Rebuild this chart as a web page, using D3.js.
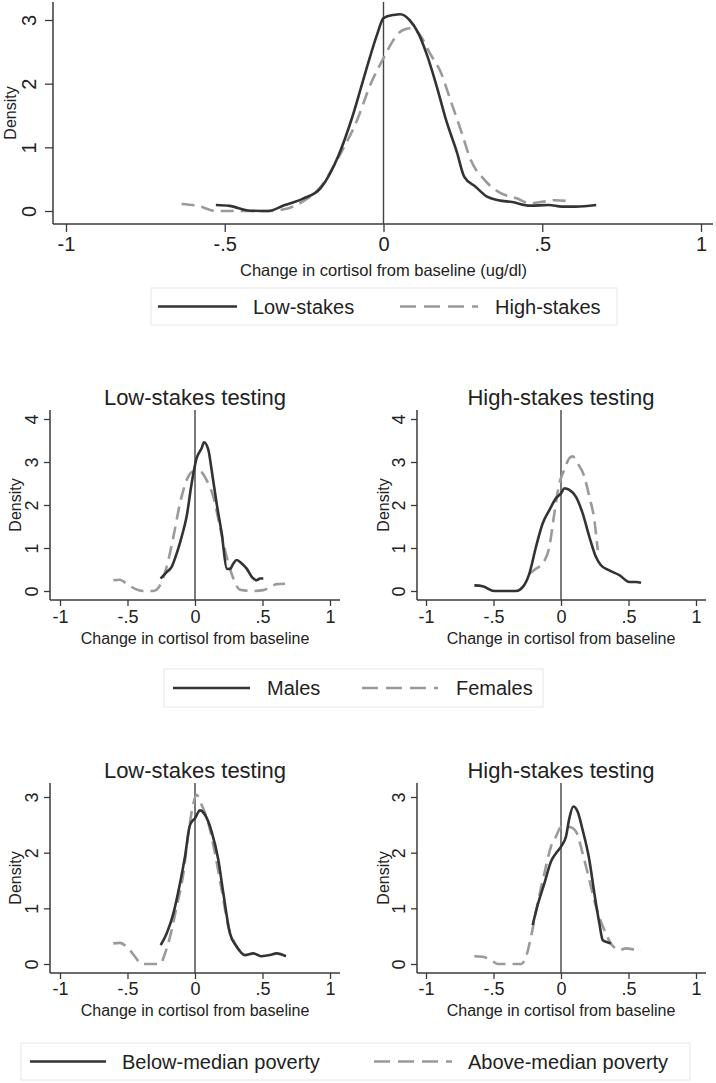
<!DOCTYPE html>
<html>
<head>
<meta charset="utf-8">
<script src="https://cdn.jsdelivr.net/npm/d3@7"></script>
<style>
  html, body { margin: 0; padding: 0; background: #fff; }
  svg { display: block; font-family: "Liberation Sans", Arial, sans-serif; }
</style>
</head>
<body>
<svg id="chart" width="716" height="1083"></svg>
<script>
// ---------------- DATA ----------------
const xTicks = [-1, -0.5, 0, 0.5, 1];
const xTickLabels = ["-1", "-.5", "0", ".5", "1"];
const yTicksTop = [0, 1, 2, 3];
const yTicksMid = [0, 1, 2, 3, 4];
const yTicksBottom = [0, 1, 2, 3];

const panelTitles = ["Low-stakes testing", "High-stakes testing"];
const legendTop = ["Low-stakes", "High-stakes"];
const legendMid = ["Males", "Females"];
const legendBottom = ["Below-median poverty", "Above-median poverty"];

// Top panel: all students
const topLowStakes = [[-0.528,0.094],[-0.485,0.08],[-0.42,0.005],[-0.363,0],[-0.313,0.09],[-0.255,0.19],[-0.198,0.36],[-0.141,0.88],[-0.098,1.48],[-0.055,2.21],[-0.019,2.79],[0,3.03],[0.032,3.08],[0.053,3.09],[0.082,3.0],[0.11,2.79],[0.139,2.42],[0.168,1.95],[0.197,1.43],[0.232,0.91],[0.254,0.54],[0.29,0.38],[0.326,0.225],[0.362,0.17],[0.405,0.14],[0.462,0.084],[0.52,0.094],[0.562,0.068],[0.605,0.068],[0.67,0.094]];
const topHighStakes = [[-0.636,0.11],[-0.585,0.08],[-0.528,0],[-0.456,0],[-0.37,0],[-0.313,0.026],[-0.255,0.147],[-0.198,0.38],[-0.141,0.85],[-0.083,1.43],[-0.04,2.0],[0,2.4],[0.032,2.69],[0.06,2.84],[0.089,2.87],[0.118,2.74],[0.146,2.48],[0.182,2.16],[0.211,1.74],[0.247,1.22],[0.275,0.8],[0.318,0.49],[0.362,0.3],[0.419,0.2],[0.462,0.12],[0.505,0.147],[0.541,0.17],[0.591,0.147]];

// Middle panels: by gender
const lowMales = [[-0.254,0.29],[-0.21,0.44],[-0.173,0.56],[-0.136,0.87],[-0.099,1.26],[-0.062,1.73],[-0.025,2.5],[0.012,3.09],[0.049,3.32],[0.067,3.46],[0.099,3.28],[0.123,2.82],[0.16,2.04],[0.198,1.34],[0.235,0.52],[0.259,0.51],[0.284,0.64],[0.309,0.72],[0.346,0.64],[0.383,0.52],[0.42,0.33],[0.457,0.25],[0.481,0.29],[0.506,0.29]];
const lowFemales = [[-0.605,0.25],[-0.556,0.26],[-0.506,0.17],[-0.444,0.05],[-0.383,0],[-0.309,0],[-0.259,0.13],[-0.21,0.56],[-0.16,1.26],[-0.111,2.04],[-0.062,2.58],[-0.012,2.78],[0.037,2.78],[0.086,2.58],[0.136,2.19],[0.185,1.49],[0.235,0.79],[0.284,0.29],[0.333,0.03],[0.432,0],[0.506,0.02],[0.556,0.09],[0.605,0.16],[0.667,0.17]];
const highMales = [[-0.642,0.13],[-0.58,0.11],[-0.494,0],[-0.407,0],[-0.333,0],[-0.284,0.09],[-0.235,0.4],[-0.185,1.03],[-0.136,1.57],[-0.086,1.88],[-0.037,2.16],[0,2.27],[0.025,2.39],[0.062,2.35],[0.111,2.19],[0.16,1.81],[0.21,1.26],[0.259,0.79],[0.296,0.6],[0.358,0.48],[0.432,0.37],[0.506,0.21],[0.556,0.21],[0.593,0.19]];
const highFemales = [[-0.235,0.4],[-0.185,0.52],[-0.136,0.64],[-0.086,1.03],[-0.049,1.81],[-0.012,2.5],[0.025,2.82],[0.062,3.09],[0.086,3.13],[0.123,2.97],[0.173,2.66],[0.21,2.19],[0.247,1.65],[0.272,0.95]];

// Bottom panels: by poverty
const lowBelowPov = [[-0.254,0.34],[-0.21,0.55],[-0.16,0.91],[-0.111,1.45],[-0.074,1.93],[-0.037,2.5],[0,2.62],[0.037,2.76],[0.074,2.68],[0.123,2.38],[0.173,1.87],[0.21,1.27],[0.259,0.55],[0.309,0.31],[0.37,0.16],[0.432,0.19],[0.494,0.14],[0.556,0.16],[0.605,0.19],[0.674,0.14]];
const lowAbovePov = [[-0.605,0.37],[-0.556,0.38],[-0.494,0.28],[-0.444,0.13],[-0.395,0],[-0.259,0],[-0.222,0.19],[-0.185,0.49],[-0.136,1.03],[-0.086,1.63],[-0.049,2.35],[-0.017,2.83],[0.012,3.04],[0.049,2.86],[0.099,2.53],[0.148,1.99],[0.198,1.33],[0.247,0.67],[0.296,0.37],[0.346,0.19]];
const highBelowPov = [[-0.21,0.7],[-0.173,1.06],[-0.123,1.45],[-0.074,1.84],[-0.037,1.99],[0,2.11],[0.037,2.29],[0.062,2.62],[0.091,2.83],[0.123,2.74],[0.16,2.41],[0.21,1.87],[0.247,1.27],[0.284,0.73],[0.309,0.43],[0.333,0.4],[0.37,0.37]];
const highAbovePov = [[-0.642,0.14],[-0.58,0.13],[-0.519,0.07],[-0.469,0],[-0.296,0],[-0.259,0.13],[-0.222,0.49],[-0.173,1.09],[-0.123,1.63],[-0.074,2.11],[-0.037,2.29],[0,2.46],[0.062,2.46],[0.111,2.38],[0.16,1.99],[0.21,1.51],[0.259,1.03],[0.321,0.61],[0.37,0.37],[0.432,0.25],[0.481,0.28],[0.543,0.26],[0.593,0.24]];

// ---------------- STYLE ----------------
const SOLID = "#333333";
const DASHED = "#9a9a9a";
const AXIS = "#3a3a3a";
const TEXT = "#222";

const svg = d3.select("#chart");

function drawPanel(o) {
  const g = svg.append("g");
  const x = d3.scaleLinear().domain([-1, 1]).range([o.x0, o.x1]);
  const y = d3.scaleLinear().domain([0, o.yMax]).range([o.y0, o.yTop]);

  // y axis
  const ya = d3.axisLeft(y).tickValues(o.yTicks).tickSize(o.tickLen).tickFormat(d3.format("d"));
  const yg = g.append("g").attr("transform", `translate(${o.axisX},0)`).call(ya);
  yg.select(".domain").remove();
  yg.selectAll(".tick line").attr("stroke", AXIS).attr("stroke-width", 1.3);
  yg.selectAll(".tick text")
    .attr("x", 0).attr("dy", 0)
    .attr("transform", `translate(${-o.yLabOff},0) rotate(-90)`)
    .attr("text-anchor", "middle")
    .attr("fill", TEXT)
    .style("font-size", o.tickFont + "px")
    .style("font-family", '"Liberation Sans", Arial, sans-serif');

  // x axis
  const xa = d3.axisBottom(x).tickValues(xTicks).tickSize(o.tickLen)
    .tickFormat((d, i) => xTickLabels[i]);
  const xg = g.append("g").attr("transform", `translate(0,${o.axisY})`).call(xa);
  xg.select(".domain").remove();
  xg.selectAll(".tick line").attr("stroke", AXIS).attr("stroke-width", 1.3);
  xg.selectAll(".tick text")
    .attr("y", o.xLabOff).attr("dy", "0.35em")
    .attr("fill", TEXT)
    .style("font-size", o.tickFont + "px")
    .style("font-family", '"Liberation Sans", Arial, sans-serif');

  // axis lines
  g.append("line").attr("x1", o.axisX).attr("x2", o.axisX).attr("y1", o.axisTop).attr("y2", o.axisY)
    .attr("stroke", AXIS).attr("stroke-width", 1.5);
  g.append("line").attr("x1", o.axisX).attr("x2", o.axisRight).attr("y1", o.axisY).attr("y2", o.axisY)
    .attr("stroke", AXIS).attr("stroke-width", 1.5);

  // reference line at 0
  g.append("line").attr("x1", x(0)).attr("x2", x(0)).attr("y1", o.axisTop).attr("y2", o.axisY)
    .attr("stroke", "#444").attr("stroke-width", 1.4);

  const line = d3.line().x(d => x(d[0])).y(d => y(d[1])).curve(d3.curveMonotoneX);
  g.append("path").datum(o.dashed).attr("d", line)
    .attr("fill", "none").attr("stroke", DASHED).attr("stroke-width", 2.6)
    .attr("stroke-dasharray", "13,7");
  g.append("path").datum(o.solid).attr("d", line)
    .attr("fill", "none").attr("stroke", SOLID).attr("stroke-width", 2.6);

  // y title
  g.append("text").attr("transform", `translate(${o.yTitleX},${(o.axisTop + o.axisY) / 2}) rotate(-90)`)
    .attr("text-anchor", "middle").attr("dy", "0.35em")
    .attr("fill", TEXT).style("font-size", "16px").text("Density");
  // x title
  g.append("text").attr("x", x(0)).attr("y", o.xTitleY).attr("dy", "0.35em")
    .attr("text-anchor", "middle").attr("fill", TEXT).style("font-size", o.xTitleFont + "px").text(o.xTitle);
  // panel title
  if (o.title) {
    g.append("text").attr("x", x(0)).attr("y", o.titleY).attr("dy", "0.35em")
      .attr("text-anchor", "middle").attr("fill", TEXT).style("font-size", "22px").text(o.title);
  }
}

function drawLegend(o) {
  const g = svg.append("g");
  g.append("rect").attr("x", o.x).attr("y", o.y).attr("width", o.w).attr("height", o.h)
    .attr("fill", "#fff").attr("stroke", "#e6e6e6").attr("stroke-width", 1);
  const cy = o.y + o.h / 2;
  g.append("line").attr("x1", o.s1[0]).attr("x2", o.s1[1]).attr("y1", cy).attr("y2", cy)
    .attr("stroke", SOLID).attr("stroke-width", 2.6);
  g.append("text").attr("x", o.t1).attr("y", cy).attr("dy", "0.35em").attr("fill", TEXT)
    .style("font-size", "20px").text(o.labels[0]);
  g.append("line").attr("x1", o.s2[0]).attr("x2", o.s2[1]).attr("y1", cy).attr("y2", cy)
    .attr("stroke", DASHED).attr("stroke-width", 2.6).attr("stroke-dasharray", "16,8");
  g.append("text").attr("x", o.t2).attr("y", cy).attr("dy", "0.35em").attr("fill", TEXT)
    .style("font-size", "20px").text(o.labels[1]);
}

// ---- Top panel ----
drawPanel({
  x0: 66, x1: 701, y0: 211, yTop: 20, yMax: 3, yTicks: yTicksTop,
  axisX: 53, axisY: 224, axisTop: 2, axisRight: 713,
  tickLen: 8, yLabOff: 17, xLabOff: 20, tickFont: 20,
  yTitleX: 10, xTitleY: 270, xTitleFont: 16.5, xTitle: "Change in cortisol from baseline (ug/dl)",
  solid: topLowStakes, dashed: topHighStakes
});
drawLegend({ x: 151, y: 288, w: 466, h: 37, s1: [158, 237], t1: 253, s2: [400, 478], t2: 495, labels: legendTop });

// ---- Middle panels ----
const midCommon = {
  y0: 591, yTop: 419, yMax: 4, yTicks: yTicksMid,
  axisY: 600, axisTop: 410, tickLen: 6, yLabOff: 12, xLabOff: 17, tickFont: 18,
  xTitleY: 638, xTitleFont: 16, xTitle: "Change in cortisol from baseline", titleY: 397
};
drawPanel(Object.assign({}, midCommon, {
  x0: 60, x1: 330, axisX: 50, axisRight: 340, yTitleX: 15,
  title: panelTitles[0], solid: lowMales, dashed: lowFemales
}));
drawPanel(Object.assign({}, midCommon, {
  x0: 426, x1: 696, axisX: 417, axisRight: 706, yTitleX: 383,
  title: panelTitles[1], solid: highMales, dashed: highFemales
}));
drawLegend({ x: 164, y: 669, w: 379, h: 38, s1: [173, 250], t1: 267, s2: [362, 438], t2: 456, labels: legendMid });

// ---- Bottom panels ----
const botCommon = {
  y0: 964, yTop: 797, yMax: 3, yTicks: yTicksBottom,
  axisY: 973, axisTop: 783, tickLen: 6, yLabOff: 12, xLabOff: 16, tickFont: 18,
  xTitleY: 1010, xTitleFont: 16, xTitle: "Change in cortisol from baseline", titleY: 770
};
drawPanel(Object.assign({}, botCommon, {
  x0: 60, x1: 330, axisX: 50, axisRight: 340, yTitleX: 15,
  title: panelTitles[0], solid: lowBelowPov, dashed: lowAbovePov
}));
drawPanel(Object.assign({}, botCommon, {
  x0: 426, x1: 696, axisX: 417, axisRight: 706, yTitleX: 383,
  title: panelTitles[1], solid: highBelowPov, dashed: highAbovePov
}));
drawLegend({ x: 21, y: 1043, w: 669, h: 37, s1: [30, 106], t1: 122, s2: [374, 452], t2: 468, labels: legendBottom });
</script>
</body>
</html>
